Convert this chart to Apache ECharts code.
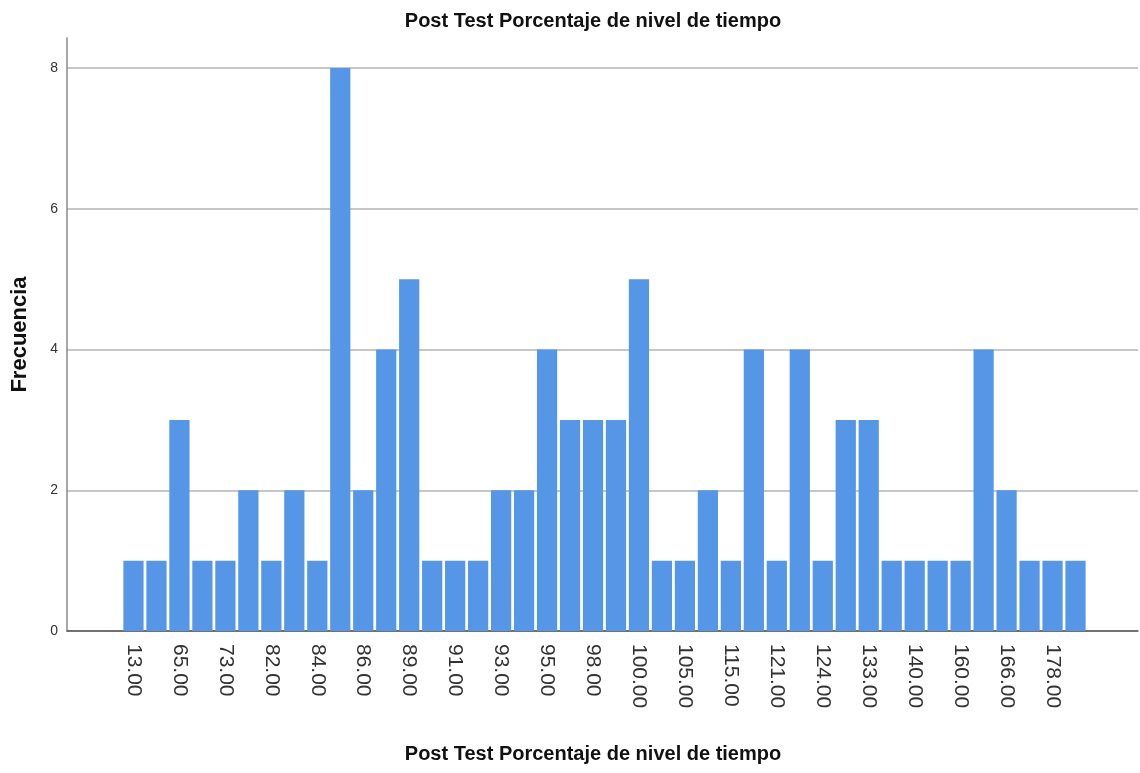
<!DOCTYPE html>
<html>
<head>
<meta charset="utf-8">
<script src="https://cdn.jsdelivr.net/npm/echarts@6/dist/echarts.min.js"></script>
<style>
  html, body { margin: 0; padding: 0; background: #fff; }
  #chart { width: 1140px; height: 773px; }
</style>
</head>
<body>
<div id="chart"></div>
<script>
// categorías del histograma (solo se rotulan una de cada dos)
const categories = [
  '13.00', '60.00', '65.00', '70.00', '73.00', '80.00', '82.00', '83.00',
  '84.00', '85.00', '86.00', '88.00', '89.00', '90.00', '91.00', '92.00',
  '93.00', '94.00', '95.00', '96.00', '98.00', '99.00', '100.00', '104.00',
  '105.00', '110.00', '115.00', '120.00', '121.00', '123.00', '124.00', '130.00',
  '133.00', '135.00', '140.00', '150.00', '160.00', '165.00', '166.00', '170.00',
  '178.00', '180.00'
]
const frecuencia = [
  1, 1, 3, 1, 1, 2, 1, 2, 1, 8, 2, 4, 5, 1,
  1, 1, 2, 2, 4, 3, 3, 3, 5, 1, 1, 2, 1, 4,
  1, 4, 1, 3, 3, 1, 1, 1, 1, 4, 2, 1, 1, 1
]
const yTicks = [0, 2, 4, 6, 8]

const chart = echarts.init(document.getElementById('chart'))
const FONT = '"Liberation Sans", Arial, sans-serif'

chart.setOption({
  animation: false,
  title: [{
    text: 'Post Test Porcentaje de nivel de tiempo',
    left: 588, top: 6, textAlign: 'center',
    textStyle: { fontFamily: FONT, fontSize: 20, fontWeight: 'bold', color: '#111' }
  }, {
    text: 'Post Test Porcentaje de nivel de tiempo',
    left: 588, top: 739, textAlign: 'center',
    textStyle: { fontFamily: FONT, fontSize: 20, fontWeight: 'bold', color: '#111' }
  }],
  grid: [
    // marco: línea del eje y hasta arriba y línea base
    { left: 67, right: 2, top: 38, bottom: 142 },
    // ticks y líneas de división
    { left: 67, right: 2, top: 68, bottom: 142 },
    // barras
    { left: 122, right: 53, top: 68, bottom: 142 }
  ],
  xAxis: [
    {
      gridIndex: 0, type: 'value', min: 0, max: 1,
      axisLine: { show: true, lineStyle: { color: '#555', width: 1.5 } },
      axisTick: { show: false }, axisLabel: { show: false }, splitLine: { show: false }
    },
    {
      gridIndex: 1, type: 'value', min: 0, max: 1, show: false
    },
    {
      gridIndex: 2, type: 'category', data: categories,
      axisLine: { show: false },
      axisTick: { show: false },
      axisLabel: {
        interval: 1, rotate: -90, margin: 13,
        fontFamily: FONT, fontSize: 21, color: '#333'
      }
    }
  ],
  yAxis: [
    {
      gridIndex: 0, type: 'value', min: 0, max: 1,
      name: 'Frecuencia', nameLocation: 'middle', nameGap: 36,
      nameTextStyle: { fontFamily: FONT, fontSize: 22, fontWeight: 'bold', color: '#111' },
      axisLine: { show: true, lineStyle: { color: '#888', width: 1.5 } },
      axisTick: { show: false }, axisLabel: { show: false }, splitLine: { show: false }
    },
    {
      gridIndex: 1, type: 'value', min: yTicks[0], max: yTicks[yTicks.length - 1], interval: 2,
      axisLine: { show: false }, axisTick: { show: false },
      axisLabel: { fontFamily: FONT, fontSize: 14, color: '#333', margin: 9 },
      splitLine: { show: true, lineStyle: { color: '#b5b5b5', width: 1.5 } }
    },
    {
      gridIndex: 2, type: 'value', min: yTicks[0], max: yTicks[yTicks.length - 1], show: false
    }
  ],
  series: [{
    type: 'bar',
    xAxisIndex: 2,
    yAxisIndex: 2,
    data: frecuencia,
    barCategoryGap: '12%',
    itemStyle: { color: '#5596e6' },
    z: 3
  }]
})
</script>
</body>
</html>
